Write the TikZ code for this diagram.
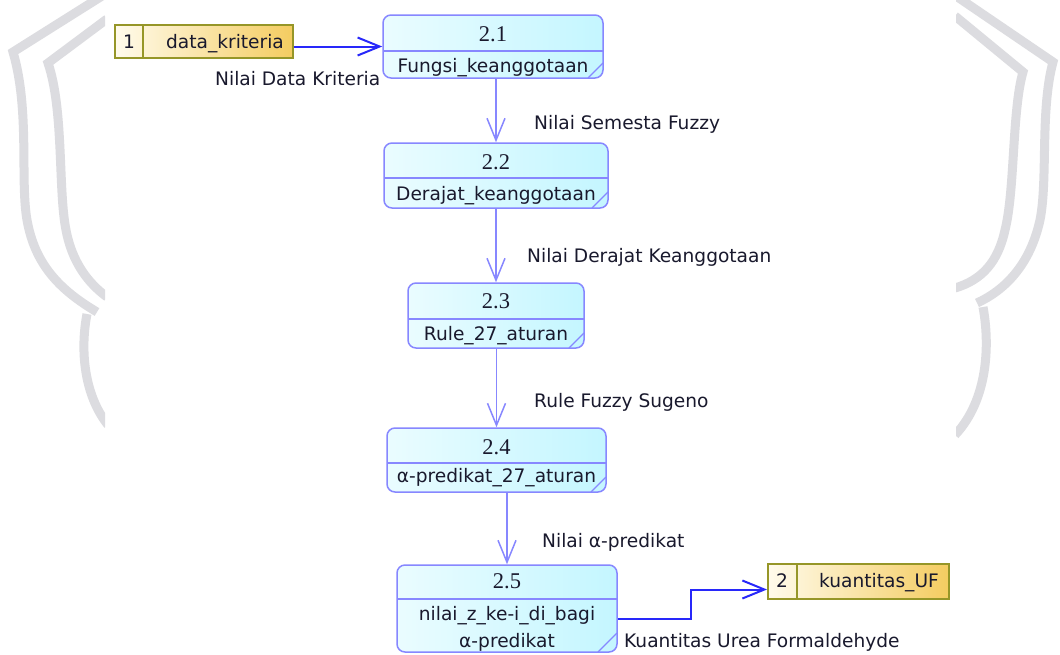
\documentclass[tikz,border=0pt]{standalone}
\usepackage{fontspec}
\setmainfont{DejaVu Sans}
\newfontfamily\numfont{Liberation Serif}
\usetikzlibrary{arrows.meta}

\definecolor{procedge}{RGB}{135,135,255}
\definecolor{procleft}{RGB}{234,252,255}
\definecolor{procright}{RGB}{196,246,255}
\definecolor{storeedge}{RGB}{150,150,40}
\definecolor{storeleft}{RGB}{255,251,236}
\definecolor{storeright}{RGB}{244,204,96}
\definecolor{flowblue}{RGB}{40,40,250}
\definecolor{wmgray}{RGB}{220,220,224}
\definecolor{txt}{RGB}{25,25,45}

\begin{document}
\begin{tikzpicture}[x=1pt, y=-1pt,
  proc/.style={draw=procedge, line width=1.5pt, rounded corners=8pt, left color=procleft, right color=procright},
  procsep/.style={draw=procedge, line width=1.3pt},
  store/.style={draw=storeedge, line width=2pt, left color=storeleft, right color=storeright},
  storesep/.style={draw=storeedge, line width=1.6pt},
  num/.style={font=\numfont\fontsize{22.5}{25}\selectfont, text=txt, inner sep=0pt, anchor=base},
  lbl/.style={font=\fontsize{18.6}{22}\selectfont, text=txt, inner sep=0pt, anchor=base},
  flow/.style={draw=procedge, line width=1.5pt, -{Straight Barb[length=22pt, width=18pt]}},
  dflow/.style={draw=flowblue, line width=2pt, -{Straight Barb[length=22pt, width=18pt]}},
  wm/.style={draw=wmgray, line width=9pt}]
\useasboundingbox (0,0) rectangle (1060,654);
\fill[white] (0,0) rectangle (1060,654);

% shield in the page margins
\begin{scope}
\clip (0,0) rectangle (105,654) (956,0) rectangle (1060,654);
\draw[wm] (102,-4) -- (13,52) .. controls (30,110) and (20,180) .. (27,220)
  .. controls (35,265) and (60,290) .. (97,312);
\draw[wm] (87,314) .. controls (80,350) and (84,395) .. (108,425);
\draw[wm] (107,19) -- (48,63) .. controls (64,110) and (58,190) .. (66,230)
  .. controls (72,262) and (88,283) .. (107,297);
\draw[wm] (956,-4) -- (1053,62) .. controls (1040,110) and (1048,180) .. (1040,220)
  .. controls (1030,265) and (1005,290) .. (977,303);
\draw[wm] (983,307) .. controls (990,345) and (988,400) .. (955,435);
\draw[wm] (955,16) -- (1023,72) .. controls (1012,110) and (1015,190) .. (1005,230)
  .. controls (998,262) and (982,280) .. (955,288);
\end{scope}

% data stores
\node[store, minimum width=178pt, minimum height=33pt] (ds1) at (204,41.5) {};
\draw[storesep] (143,25) -- (143,58);
\node[lbl] (k1) at (129,48) {1};
\node[lbl] (s1) at (225,48) {data\_kriteria};

\node[store, minimum width=181pt, minimum height=35pt] (ds2) at (858.5,581.5) {};
\draw[storesep] (797,564) -- (797,599);
\node[lbl] (k2) at (782,587) {2};
\node[lbl] (s2) at (879,587) {kuantitas\_UF};

% processes
\node[proc, minimum width=220pt, minimum height=63pt] (p21) at (493,46.5) {};
\draw[procsep] (383,51) -- (603,51);
\draw[procsep] (588,78) -- (603,63);
\node[num] (n21) at (493,41) {2.1};
\node[lbl] (t21) at (493,72.5) {Fungsi\_keanggotaan};

\node[proc, minimum width=224pt, minimum height=65pt] (p22) at (496,175.5) {};
\draw[procsep] (384,178) -- (608,178);
\draw[procsep] (592,208) -- (608,192);
\node[num] (n22) at (496,169) {2.2};
\node[lbl] (t22) at (496,200) {Derajat\_keanggotaan};

\node[proc, minimum width=176pt, minimum height=65pt] (p23) at (496,315.5) {};
\draw[procsep] (408,319) -- (584,319);
\draw[procsep] (569,348) -- (584,333);
\node[num] (n23) at (496,308) {2.3};
\node[lbl] (t23) at (496,340) {Rule\_27\_aturan};

\node[proc, minimum width=219pt, minimum height=64pt] (p24) at (496.5,460) {};
\draw[procsep] (387,463) -- (606,463);
\draw[procsep] (591,492) -- (606,477);
\node[num] (n24) at (496.5,454) {2.4};
\node[lbl] (t24) at (496.5,482) {α-predikat\_27\_aturan};

\node[proc, minimum width=220pt, minimum height=87pt] (p25) at (507,608.5) {};
\draw[procsep] (397,599) -- (617,599);
\draw[procsep] (598,652) -- (617,633);
\node[num] (n25) at (507,588) {2.5};
\node[lbl] (t25a) at (507,620.5) {nilai\_z\_ke-i\_di\_bagi};
\node[lbl] (t25b) at (507,647) {α-predikat};

% flows
\draw[dflow] (ds1.east |- p21.west) -- (p21.west);
\draw[flow] (p22.north |- p21.south) -- (p22.north);
\draw[flow] (p23.north |- p22.south) -- (p23.north);
\draw[flow] (p24.north |- p23.south) -- (p24.north);
\draw[flow] (p25.north |- p24.south) -- (p25.north);
\draw[dflow] ([yshift=-10pt]p25.east) -- ++(73,0) |- ([yshift=-8pt]ds2.west);

\node[lbl, anchor=base west] (l1) at (215,85) {Nilai Data Kriteria};
\node[lbl, anchor=base west] (l2) at (534,129) {Nilai Semesta Fuzzy};
\node[lbl, anchor=base west] (l3) at (527,262) {Nilai Derajat Keanggotaan};
\node[lbl, anchor=base west] (l4) at (534,407) {Rule Fuzzy Sugeno};
\node[lbl, anchor=base west] (l5) at (542,547) {Nilai α-predikat};
\node[lbl, anchor=base west] (l6) at (624,647) {Kuantitas Urea Formaldehyde};
\end{tikzpicture}
\end{document}
